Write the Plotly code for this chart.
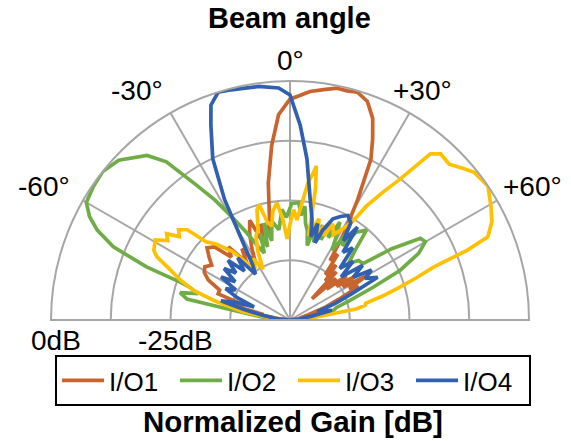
import plotly.graph_objects as go

# ---------------- data (beam angle in degrees, normalized gain in dB) ----------------
series_names = ["I/O1", "I/O2", "I/O3", "I/O4"]
series_colors = ["#C8642D", "#70AD47", "#FFC000", "#3160B0"]

io1_theta = [-90, -84, -80, -78, -76, -74, -72, -70, -67, -64, -61, -58, -55, -52, -49, -46, -43, -40,
             -37, -34, -31, -28, -25, -22, -19, -17, -15, -13, -11.5, -9, -6, -3.2, 0, 2.5, 5, 8.3,
             11.5, 14, 16.5, 19.5, 22.3, 24.5, 26.7, 29.3, 31.9, 34, 36, 38, 40, 42, 44, 46, 48, 50,
             52, 54, 56, 58, 60, 62, 64, 67, 70, 74, 80, 90]
io1_gain = [-50, -48, -44, -44, -39, -36, -40, -34, -34, -31, -29.5, -29, -30, -28.5, -27, -28, -32, -30,
            -35, -32, -36, -33, -30, -27.5, -33, -29, -32, -30, -28.5, -21, -13.3, -7, -3.8, -3, -2, -1.3,
            -0.5, -0.6, -0.3, -1.5, -4.4, -8.3, -12.3, -21, -28.6, -35, -33, -38, -35, -39, -36, -43.6, -37, -40,
            -35, -38, -33.8, -37, -31.2, -36, -34, -39, -42, -46, -48, -50]

io2_theta = [-90, -84, -80, -78.5, -76, -74, -72, -71, -69.7, -67.5, -65, -62.7, -60, -56, -51.6, -47, -41,
             -38, -34.6, -32, -29.5, -26.5, -23.4, -21, -19, -17, -15, -13, -11, -9.7, -7, -4.2, -2, 0.9,
             2.8, 4.3, 6, 7.5, 9.1, 11, 13, 15, 17, 19, 21, 23, 25, 27, 29, 31, 33, 35, 37, 40.4, 43, 46,
             49, 52.3, 55, 57.9, 60, 62.6, 65.7, 68.5, 72, 75, 78, 82, 86, 90]
io2_gain = [-50, -44, -37, -28, -26.3, -30, -28, -25.8, -18, -10, -5.5, -2.8, -0.8, -0.3, 0, -1, -4.4,
            -8, -15.9, -20.5, -25.1, -29.5, -33.3, -35, -31, -34, -29, -33, -30, -29.4, -31, -26.8, -28.5, -25.6,
            -25.5, -25.4, -28, -26, -29.5, -31, -34, -30, -33, -29, -32, -28, -31, -27, -30, -33, -29, -31, -27, -25.3, -30, -33,
            -31, -30.7, -24, -17.8, -17.3, -19.7, -24.7, -31.3, -37, -40, -40.8, -44, -47, -50]

io3_theta = [-90, -84, -80, -75.7, -73, -70.1, -67, -64.6, -62.9, -59.3, -57, -55, -53, -51, -48.7, -47,
             -44.3, -40, -36.4, -34, -31, -28, -25, -22, -19.5, -16.7, -15, -13, -11, -9, -6.4, -4, -2, 0,
             1.9, 4, 6, 7.5, 8.9, 9.7, 11, 12.5, 14, 16, 18, 20, 22, 24, 27, 30, 32.5, 33.8, 36, 38, 40.2,
             42.2, 45.6, 48.5, 51.3, 55.9, 60.5, 64, 67.2, 68.5, 69.8, 71.5, 73.4, 75.5, 77.5, 79, 80.5, 84, 90]
io3_gain = [-50, -46, -40, -33.7, -29, -25.7, -22.5, -19.2, -18, -17.2, -19.5, -18.5, -21, -20, -21.4, -26,
            -27.8, -31.3, -35.7, -37, -35, -38, -34, -31, -30, -26, -25, -29, -30, -27, -25.3, -29, -33, -30,
            -26.9, -29, -25, -21, -19, -17.3, -22, -32, -30, -28, -31, -29, -31, -28, -30, -28, -25.5, -21.4, -17, -12.6, -4.5,
            -3.1, -3.4, -2, -0.6, 0, -1.7, -3, -5.1, -10.1, -18, -22, -26, -30, -33.8, -34, -36, -45, -50]

io4_theta = [-90, -84, -80, -77, -74.5, -72, -70, -67, -64, -61, -58, -55, -52, -49, -46, -43, -40, -37,
             -34, -31.7, -28.5, -25.6, -22.1, -20.2, -17.5, -14.3, -11, -7.7, -2.8, 0, 3, 6, 9.5, 12.4, 14,
             16, 18, 20, 23, 26, 29, 32, 34, 36, 38, 41, 44, 47, 50, 53, 56, 58.5, 61, 64, 67, 70, 73, 77,
             80, 84, 90]
io4_gain = [-50, -47, -44, -40, -35, -38, -42, -38, -35, -37, -33, -36, -32.5, -35, -32, -36, -33, -38,
            -36, -32, -21.3, -12.6, -6, -2.1, 0, -0.3, -0.6, -0.7, -1.4, -2.9, -9.2, -16.1, -24.4, -28.5, -32,
            -29, -33, -30, -27, -25.9, -25, -26, -30, -26, -32, -30, -35, -32, -36, -31, -34, -30, -32, -29.6, -36, -40, -44, -41,
            -45.6, -48, -50]

series_theta = [io1_theta, io2_theta, io3_theta, io4_theta]
series_gain = [io1_gain, io2_gain, io3_gain, io4_gain]

radial_ticks = [-50, -37.5, -25, -12.5, 0]
angle_ticks = [-90, -60, -30, 0, 30, 60, 90]
angle_labels = ["-60°", "-30°", "0°", "+30°", "+60°"]
gain_labels = ["0dB", "-25dB"]

# ---------------- figure ----------------
W, H = 571, 441
cx, cy, R = 290, 320, 239
FONT = "Liberation Sans, Arial, sans-serif"
GRID = "#A6A6A6"


def px(x):
    return x / W


def py(y):
    return 1 - y / H


fig = go.Figure()
for name, color, th, g in zip(series_names, series_colors, series_theta, series_gain):
    fig.add_trace(go.Scatterpolar(theta=th, r=g, mode="lines", name=name,
                                  line=dict(color=color, width=3.7)))

fig.update_layout(
    width=W, height=H,
    margin=dict(l=0, r=0, t=0, b=0),
    paper_bgcolor="white", plot_bgcolor="white",
    font=dict(family=FONT, color="black", size=24),
    polar=dict(
        domain=dict(x=[(cx - R) / W, (cx + R) / W], y=[(H - cy) / H, (H - cy + R) / H]),
        sector=[0, 180],
        bgcolor="white",
        radialaxis=dict(range=[-50, 0], tickvals=radial_ticks, showticklabels=False, ticks="",
                        showline=False, gridcolor=GRID, gridwidth=2),
        angularaxis=dict(rotation=90, direction="clockwise", tickvals=angle_ticks,
                         showticklabels=False, ticks="", gridcolor=GRID, gridwidth=2,
                         linecolor=GRID, linewidth=2),
    ),
    showlegend=True,
    legend=dict(orientation="h", x=px(293), xanchor="center", y=py(355), yanchor="top",
                bordercolor="black", borderwidth=2, font=dict(size=26, family=FONT),
                itemwidth=42, entrywidth=61, tracegroupgap=0, bgcolor="white"),
)

ann = []
ann.append(dict(x=px(289), y=py(18), text="<b>Beam angle</b>", font=dict(size=29)))
ann.append(dict(x=px(293), y=py(421), text="<b>Normalized Gain [dB]</b>", font=dict(size=29.5)))
label_pos = [(44, 187), (137, 90), (290, 60), (422, 90), (532, 187)]
for t, (lx, ly) in zip(angle_labels, label_pos):
    ann.append(dict(x=px(lx), y=py(ly), text=t, font=dict(size=28)))
for t, (lx, ly) in zip(gain_labels, [(56, 340), (175, 340)]):
    ann.append(dict(x=px(lx), y=py(ly), text=t, font=dict(size=28)))
for a in ann:
    a.update(xref="paper", yref="paper", showarrow=False, xanchor="center", yanchor="middle")
fig.update_layout(annotations=ann)

# the page's default 8px body margin would shift the 571x441 figure; remove it
fig.write_html("out.html", config={"displayModeBar": False},
               post_script="document.body.style.margin='0px';")
